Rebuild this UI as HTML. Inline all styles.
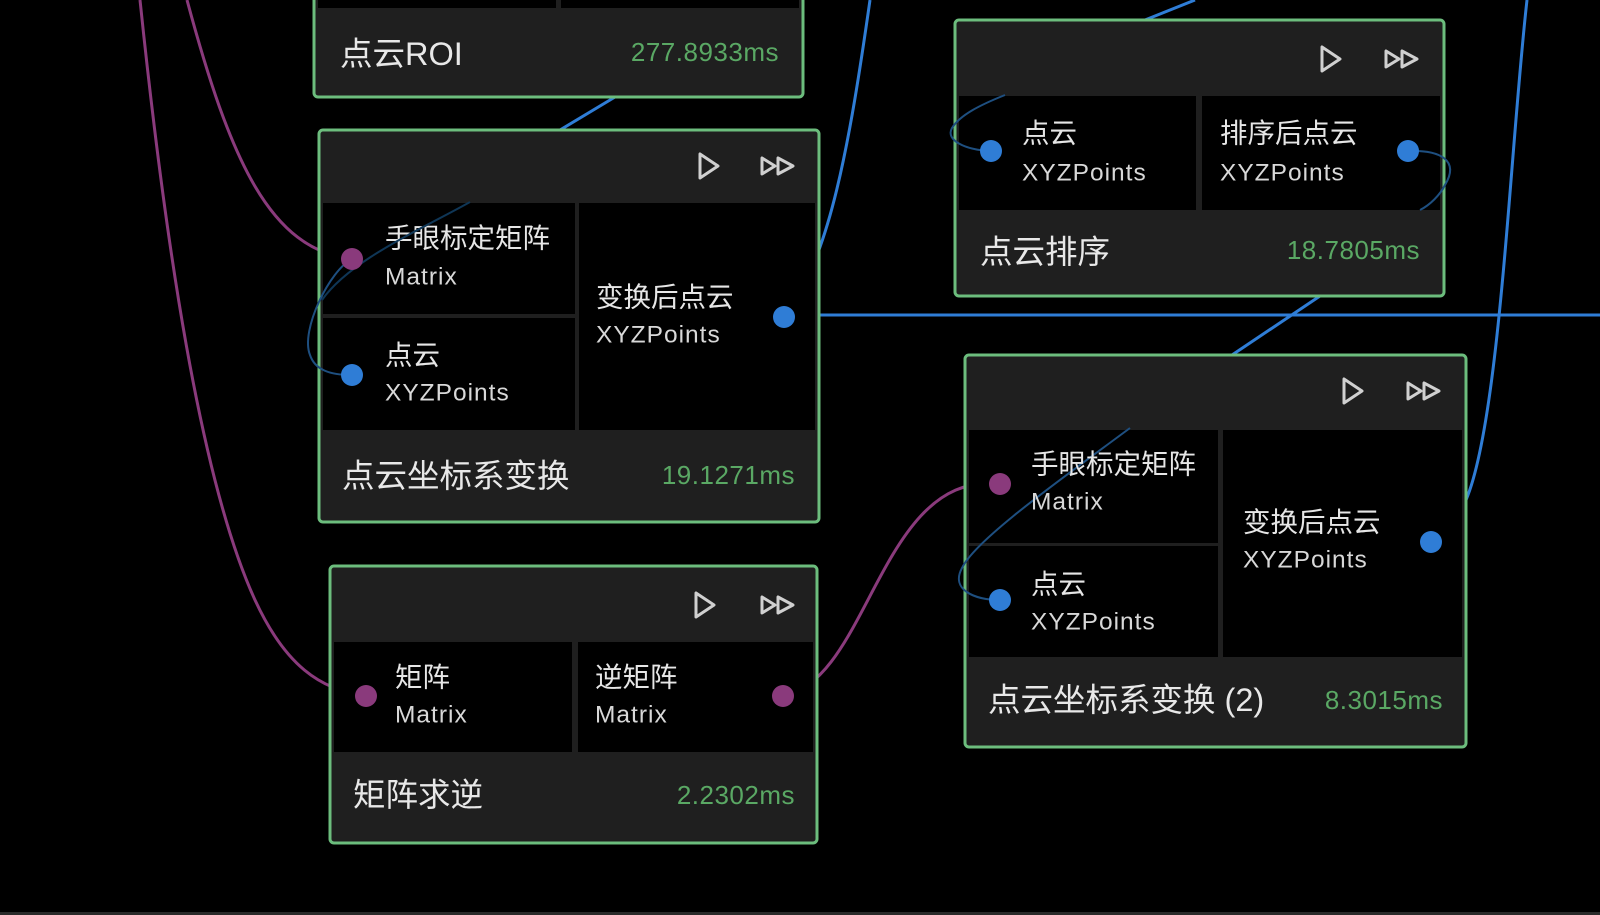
<!DOCTYPE html>
<html><head><meta charset="utf-8"><style>
html,body{margin:0;padding:0;background:#000;width:1600px;height:915px;overflow:hidden}
svg{display:block}
text{font-family:"Liberation Sans","Noto Sans CJK SC",sans-serif;dominant-baseline:central}
.l{fill:#e6e6e6;font-size:27.5px}
.s{fill:#d8d8d8;font-size:24.5px;letter-spacing:1px}
.t{fill:#e8e8e8;font-size:32.5px}
.ms{fill:#5aa864;font-size:26px;letter-spacing:0.5px;text-anchor:end}
.hd{fill:#1f1f1f}
.cell{fill:#000}
.bd{fill:none;stroke:#6cbd7d;stroke-width:3}
.ic{fill:none;stroke:#d0d0d0;stroke-width:3;stroke-linejoin:round}
</style></head><body>
<svg width="1600" height="915" viewBox="0 0 1600 915">
<g fill="none" stroke-width="3">
<path d="M140 0 C165 240,200 480,255 600 C285 665,320 690,366 696" stroke="#8a3a7c"/>
<path d="M187 0 C230 160,270 250,352 259" stroke="#8a3a7c"/>
<path d="M783 696 C870 680,880 470,1000 484" stroke="#8a3a7c"/>
<path d="M870 0 C850 140,830 260,784 317" stroke="#2f7dd6"/>
<path d="M784 315 L1600 315" stroke="#2f7dd6"/>
<path d="M1527 0 C1510 150,1500 420,1466 500 C1460 520,1450 530,1441 540" stroke="#2f7dd6"/>
<path d="M615 97 L560 130" stroke="#2f7dd6"/>
<path d="M1320 296 L1232 355" stroke="#2f7dd6"/>
<path d="M1195 0 L1145 20" stroke="#2f7dd6"/>
<path d="M730 0 L715 10" stroke="#2f7dd6"/>
</g>

<rect x="314" y="-10" width="489" height="107" rx="4" class="hd"/>
<rect x="318" y="-10" width="238" height="18" class="cell"/>
<rect x="561" y="-10" width="238" height="18" class="cell"/>
<rect x="314" y="-10" width="489" height="107" rx="4" class="bd"/>
<text x="340" y="54" class="t">点云ROI</text>
<text x="779" y="52" class="ms">277.8933ms</text>

<rect x="319" y="130" width="500" height="392" rx="4" class="hd"/>
<rect x="323" y="203" width="252" height="111" class="cell"/>
<rect x="323" y="318" width="252" height="112" class="cell"/>
<rect x="579" y="203" width="236" height="227" class="cell"/>
<rect x="319" y="130" width="500" height="392" rx="4" class="bd"/>
<path d="M700 154 L700 178 L718 166 Z" class="ic"/>
<path d="M762 158 L762 174 L775 166 Z M778 158 L778 174 L793 166 Z" class="ic" stroke="#aaa"/>
<text x="385" y="238" class="l">手眼标定矩阵</text>
<text x="385" y="277" class="s">Matrix</text>
<text x="385" y="355" class="l">点云</text>
<text x="385" y="393" class="s">XYZPoints</text>
<text x="596" y="297" class="l">变换后点云</text>
<text x="596" y="335" class="s">XYZPoints</text>
<text x="342" y="476" class="t">点云坐标系变换</text>
<text x="795" y="475" class="ms">19.1271ms</text>
<path d="M352 259 C330 270,300 330,310 355 C315 370,330 375,352 375" fill="none" stroke="#1e4f80" stroke-width="2"/>
<path d="M470 202 C420 230,350 260,322 300" fill="none" stroke="#0f3656" stroke-width="2"/>
<circle cx="352" cy="259" r="11" fill="#8a3a7c"/>
<circle cx="352" cy="375" r="11" fill="#2f7dd6"/>
<circle cx="784" cy="317" r="11" fill="#2f7dd6"/>

<rect x="955" y="20" width="489" height="276" rx="4" class="hd"/>
<rect x="959" y="96" width="237" height="114" class="cell"/>
<rect x="1202" y="96" width="238" height="114" class="cell"/>
<rect x="955" y="20" width="489" height="276" rx="4" class="bd"/>
<path d="M1322 47 L1322 71 L1340 59 Z" class="ic"/>
<path d="M1386 51 L1386 67 L1399 59 Z M1402 51 L1402 67 L1417 59 Z" class="ic" stroke="#aaa"/>
<path d="M991 151 C965 150,945 140,952 128 C960 115,980 105,1005 95" fill="none" stroke="#1e4f80" stroke-width="2"/>
<path d="M1408 151 C1440 150,1460 160,1445 185 C1440 195,1430 205,1420 210" fill="none" stroke="#1e4f80" stroke-width="2"/>
<text x="1022" y="133" class="l">点云</text>
<text x="1022" y="173" class="s">XYZPoints</text>
<text x="1220" y="133" class="l">排序后点云</text>
<text x="1220" y="173" class="s">XYZPoints</text>
<text x="980" y="252" class="t">点云排序</text>
<text x="1420" y="250" class="ms">18.7805ms</text>
<circle cx="991" cy="151" r="11" fill="#2f7dd6"/>
<circle cx="1408" cy="151" r="11" fill="#2f7dd6"/>

<rect x="965" y="355" width="501" height="392" rx="4" class="hd"/>
<rect x="969" y="430" width="249" height="113" class="cell"/>
<rect x="969" y="546" width="249" height="111" class="cell"/>
<rect x="1223" y="430" width="239" height="227" class="cell"/>
<rect x="965" y="355" width="501" height="392" rx="4" class="bd"/>
<path d="M1344 379 L1344 403 L1362 391 Z" class="ic"/>
<path d="M1408 383 L1408 399 L1421 391 Z M1424 383 L1424 399 L1439 391 Z" class="ic" stroke="#aaa"/>
<path d="M1000 600 C975 600,950 590,962 568 C975 540,1060 480,1130 428" fill="none" stroke="#1e4f80" stroke-width="2"/>
<text x="1031" y="464" class="l">手眼标定矩阵</text>
<text x="1031" y="502" class="s">Matrix</text>
<text x="1031" y="584" class="l">点云</text>
<text x="1031" y="622" class="s">XYZPoints</text>
<text x="1243" y="522" class="l">变换后点云</text>
<text x="1243" y="560" class="s">XYZPoints</text>
<text x="988" y="700" class="t">点云坐标系变换 (2)</text>
<text x="1443" y="700" class="ms">8.3015ms</text>
<circle cx="1000" cy="484" r="11" fill="#8a3a7c"/>
<circle cx="1000" cy="600" r="11" fill="#2f7dd6"/>
<circle cx="1431" cy="542" r="11" fill="#2f7dd6"/>

<rect x="330" y="566" width="487" height="277" rx="4" class="hd"/>
<rect x="334" y="642" width="238" height="110" class="cell"/>
<rect x="578" y="642" width="235" height="110" class="cell"/>
<rect x="330" y="566" width="487" height="277" rx="4" class="bd"/>
<path d="M696 593 L696 617 L714 605 Z" class="ic"/>
<path d="M762 597 L762 613 L775 605 Z M778 597 L778 613 L793 605 Z" class="ic" stroke="#aaa"/>
<text x="395" y="677" class="l">矩阵</text>
<text x="395" y="715" class="s">Matrix</text>
<text x="595" y="677" class="l">逆矩阵</text>
<text x="595" y="715" class="s">Matrix</text>
<text x="353" y="795" class="t">矩阵求逆</text>
<text x="795" y="795" class="ms">2.2302ms</text>
<circle cx="366" cy="696" r="11" fill="#8a3a7c"/>
<circle cx="783" cy="696" r="11" fill="#8a3a7c"/>

<rect x="0" y="912" width="1600" height="3" fill="#2a2a2a"/>
</svg>
</body></html>
